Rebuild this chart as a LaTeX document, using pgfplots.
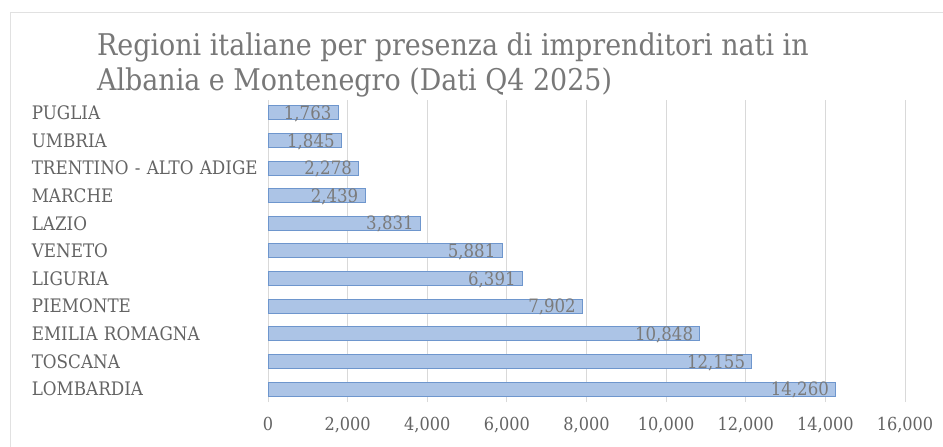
\documentclass[border=0pt]{standalone}
\usepackage{fontspec}
\setmainfont{DejaVu Serif}[FakeStretch=0.9]
\usepackage{pgfplots}
\pgfplotsset{compat=1.18}
\definecolor{barfill}{RGB}{172,196,230}
\definecolor{barmid}{RGB}{198,214,239}
\definecolor{baredge}{RGB}{110,150,205}
\definecolor{txtgray}{RGB}{100,100,100}
\definecolor{titlegray}{RGB}{120,120,120}
\definecolor{gridgray}{RGB}{217,217,217}
\definecolor{framegray}{RGB}{225,225,225}

\begin{document}
\begin{tikzpicture}
\useasboundingbox (0,0) rectangle (943bp,447bp);
\fill[white] (0,0) rectangle (943bp,447bp);
\draw[framegray, line width=1bp] (10bp,0) -- (10bp,434bp) -- (943bp,434bp);
\node[anchor=base west, inner sep=0pt, text=titlegray, font=\fontsize{30}{34}\selectfont] at (97bp,391bp) {Regioni italiane per presenza di imprenditori nati in};
\node[anchor=base west, inner sep=0pt, text=titlegray, font=\fontsize{30}{34}\selectfont] at (97bp,356bp) {Albania e Montenegro (Dati Q4 2025)};
\begin{axis}[
    at={(268bp,45bp)}, anchor=south west,
    scale only axis,
    width=637bp, height=302bp,
    xbar, bar width=14bp,
    xmin=0, xmax=16000,
    ymin=-0.47, ymax=10.47,
    xtick={0,2000,...,16000},
    ytick={0,...,10},
    yticklabels={LOMBARDIA,TOSCANA,EMILIA ROMAGNA,PIEMONTE,LIGURIA,VENETO,LAZIO,MARCHE,TRENTINO - ALTO ADIGE,UMBRIA,PUGLIA},
    axis line style={draw=none},
    major tick length=0pt,
    xmajorgrids, grid style={gridgray, line width=0.8bp},
    scaled x ticks=false,
    /pgf/number format/.cd, 1000 sep={,}, assume math mode=true,
    /pgfplots/.cd,
    xticklabel style={text=txtgray, font=\fontsize{18}{20}\selectfont, yshift=-12bp},
    yticklabel style={text=txtgray, font=\fontsize{18.7}{20}\selectfont, text width=236bp, align=left, inner sep=0pt},
    nodes near coords,
    nodes near coords align={anchor=east},
    every node near coord/.append style={text=txtgray!85, font=\fontsize{18.5}{20}\selectfont, xshift=-3bp, yshift=-1bp},
]
\addplot[shade, top color=barfill, middle color=barmid, bottom color=barfill, draw=baredge, line width=1bp] coordinates {
    (14260,0) (12155,1) (10848,2) (7902,3) (6391,4) (5881,5)
    (3831,6) (2439,7) (2278,8) (1845,9) (1763,10)
};
\end{axis}
\end{tikzpicture}
\end{document}
